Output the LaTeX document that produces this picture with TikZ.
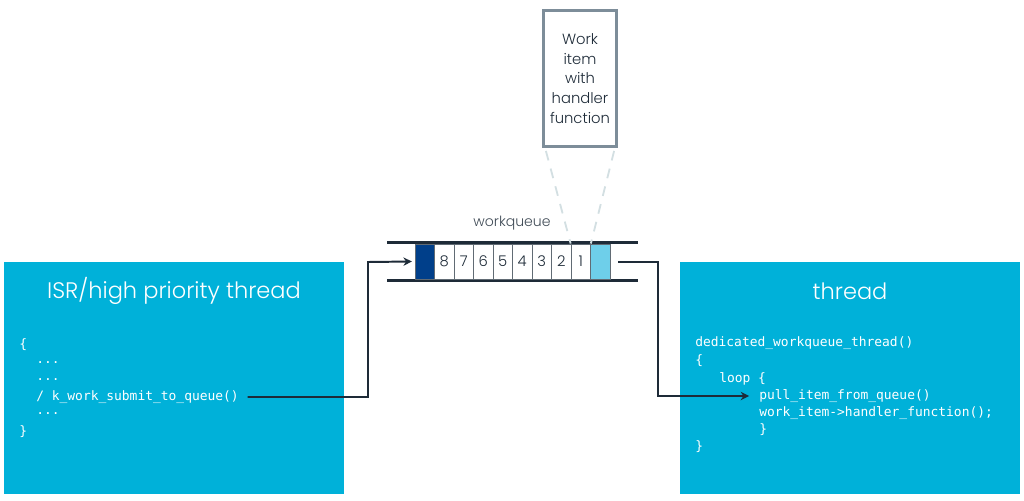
\documentclass[tikz,border=0pt]{standalone}
\usepackage{fontspec}
\setmainfont{Poppins}[UprightFont={* Light}]
\setmonofont{DejaVu Sans Mono}
\usetikzlibrary{arrows.meta}

\definecolor{boxblue}{HTML}{00B1D9}
\definecolor{qdark}{HTML}{003F8A}
\definecolor{qlight}{HTML}{6ECFEA}
\definecolor{lineink}{HTML}{1E2B38}
\definecolor{itemgray}{HTML}{7D8D99}
\definecolor{dashgray}{HTML}{D3DFE2}

\tikzset{
  threadbox/.style={fill=boxblue, inner sep=0pt, minimum width=8.5cm, minimum height=5.8cm},
  boxtitle/.style={text=white, font=\fontsize{16}{18}\selectfont},
  codeline/.style={anchor=west, inner sep=0pt, text=white, font=\ttfamily\fontsize{9.2}{12}\selectfont},
  qcell/.style={draw=lineink!70, line width=0.5pt, inner sep=0pt, minimum width=0.4875cm,
    minimum height=0.88cm, font=\fontsize{10.5}{12}\selectfont, text=lineink},
  link/.style={draw=lineink, line width=1.4pt, ->, >={Stealth[length=6pt,width=6pt]}}
}

\begin{document}
\begin{tikzpicture}[x=0.025cm, y=-0.025cm]
  \useasboundingbox (0,0) rectangle (1024,500);

  % the two threads
  \node (isr) [threadbox] at (174,378) {};
  \node (thr) [threadbox] at (850,378) {};
  \node (isrtitle) [boxtitle] at (174,291) {ISR/high priority thread};
  \node (thrtitle) [boxtitle] at (850,291) {thread};

  % code in the ISR
  \node (l1) [codeline] at (19,345) {\{};
  \node (l2) [codeline] at (36,363) {...};
  \node (l3) [codeline] at (36,380) {...};
  \node (submit) [codeline] at (36,397) {/ k\_work\_submit\_to\_queue()};
  \node (l5) [codeline] at (36,414) {...};
  \node (l6) [codeline] at (19,432) {\}};

  % code in the thread
  \node (r1) [codeline] at (695,343) {dedicated\_workqueue\_thread()};
  \node (r2) [codeline] at (695,361) {\{};
  \node (r3) [codeline] at (719,379) {loop \{};
  \node (pull) [codeline] at (759,396) {pull\_item\_from\_queue()};
  \node (r5) [codeline] at (759,413) {work\_item->handler\_function();};
  \node (r6) [codeline] at (759,430) {\}};
  \node (r7) [codeline] at (695,447) {\}};

  % the queue
  \draw[lineink, line width=1.6pt] (387,242.5) -- (638,242.5);
  \draw[lineink, line width=1.6pt] (387,280.5) -- (638,280.5);
  \node (qlabel) [text=lineink!85, font=\fontsize{10}{12}\selectfont] at (512,223) {workqueue};
  \node (dark) [qcell, fill=qdark] at (424.75,261.5) {};
  \foreach \n [count=\i] in {8,7,6,5,4,3,2,1}
    \node (c\n) [qcell, fill=white] at (424.75+\i*19.5,261.5) {\n};
  \node (light) [qcell, fill=qlight] at (600.25,261.5) {};

  % work item
  \node (item) [draw=itemgray, line width=2pt, minimum width=1.75cm, minimum height=3.4cm,
    align=center, text=lineink, font=\fontsize{10.5}{14}\selectfont] at (580,78.5)
    {\raisebox{2pt}{\parbox{1.6cm}{\centering Work\\item\\with\\handler\\function}}};
  \draw[dashgray, line width=1.3pt, dash pattern=on 7pt off 6pt] (item.south west) ++(4,3) -- (c1.north west);
  \draw[dashgray, line width=1.3pt, dash pattern=on 7pt off 6pt] (item.south east) ++(-4,3) -- (c1.north east);

  % connectors
  \coordinate (bendin) at (368,262);
  \coordinate (qout) at (618,262);
  \coordinate (bendout) at (658,262);
  \draw[link] ([xshift=6pt]submit.east) -| (bendin) -- ([xshift=-2pt]dark.west);
  \draw[link] (qout) -- (bendout) |- ([xshift=-7pt]pull.west);
\end{tikzpicture}
\end{document}
